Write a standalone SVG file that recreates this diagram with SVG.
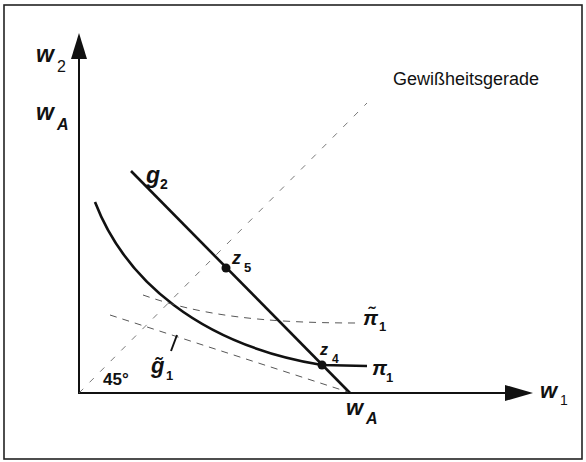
<svg xmlns="http://www.w3.org/2000/svg" width="586" height="462" viewBox="0 0 586 462">
<style>
.frame{fill:none;stroke:#222;stroke-width:1.6}
.axis{fill:none;stroke:#111;stroke-width:2}
.thick{fill:none;stroke:#111;stroke-width:2.6}
.dash{fill:none;stroke:#444;stroke-width:0.9;stroke-dasharray:7 6}
.dot45{fill:none;stroke:#555;stroke-width:0.8;stroke-dasharray:6 9}
text{font-family:"Liberation Sans",Arial,sans-serif;fill:#111}
.it{font-style:italic;font-weight:bold}
.sub{font-weight:bold}
</style>
<rect class="frame" x="4" y="5" width="578" height="454"/>
<g id="axes">
<line class="axis" x1="79" y1="393" x2="79" y2="56"/>
<polygon points="79,33 71,59 87,59" fill="#111"/>
<line class="axis" x1="78" y1="393" x2="508" y2="393"/>
<polygon points="533,393 505,385 505,401" fill="#111"/>
</g>
<g id="gewissheitsgerade">
<line class="dot45" x1="79" y1="393" x2="367" y2="103"/>
<text x="393" y="85" font-size="18">Gewißheitsgerade</text>
</g>
<g id="g2">
<line class="thick" x1="131" y1="171" x2="350" y2="393"/>
<text class="it" x="146" y="183" font-size="23">g</text>
<text class="sub" x="160" y="189" font-size="14">2</text>
</g>
<g id="pi1">
<path class="thick" d="M95,202 C125,280 200,345 322,365 L367,366"/>
<text class="it" x="372" y="375" font-size="21">π</text>
<text class="sub" x="386" y="382" font-size="13">1</text>
</g>
<g id="pi1tilde">
<path class="dash" d="M143,295 C200,315 260,323 358,323"/>
<text class="it" x="363" y="325" font-size="21">π̃</text>
<text class="sub" x="379" y="331" font-size="13">1</text>
</g>
<g id="g1tilde">
<line class="dash" x1="110" y1="315" x2="348" y2="392"/>
<line stroke="#111" stroke-width="2" x1="177" y1="335" x2="171" y2="351"/>
<text class="it" x="151" y="373" font-size="22">g̃</text>
<text class="sub" x="166" y="380" font-size="13">1</text>
</g>
<g id="z5">
<circle cx="226" cy="268" r="4.5" fill="#111"/>
<text class="it" x="232" y="264" font-size="18">z</text>
<text class="sub" x="244" y="272" font-size="13">5</text>
</g>
<g id="z4">
<circle cx="322" cy="365" r="4.5" fill="#111"/>
<text class="it" x="320" y="355" font-size="16">z</text>
<text class="sub" x="332" y="363" font-size="12">4</text>
</g>
<g id="labels">
<text class="it" x="36" y="62" font-size="23">w</text>
<text x="57" y="72" font-size="16">2</text>
<text class="it" x="36" y="120" font-size="23">w</text>
<text class="it" x="57" y="130" font-size="16" font-weight="normal">A</text>
<text class="it" x="346" y="415" font-size="22">w</text>
<text class="it" x="366" y="424" font-size="16" font-weight="normal">A</text>
<text class="it" x="540" y="398" font-size="22">w</text>
<text x="560" y="405" font-size="14">1</text>
<text x="103" y="385" font-size="17" font-weight="bold">45°</text>
</g>
</svg>
